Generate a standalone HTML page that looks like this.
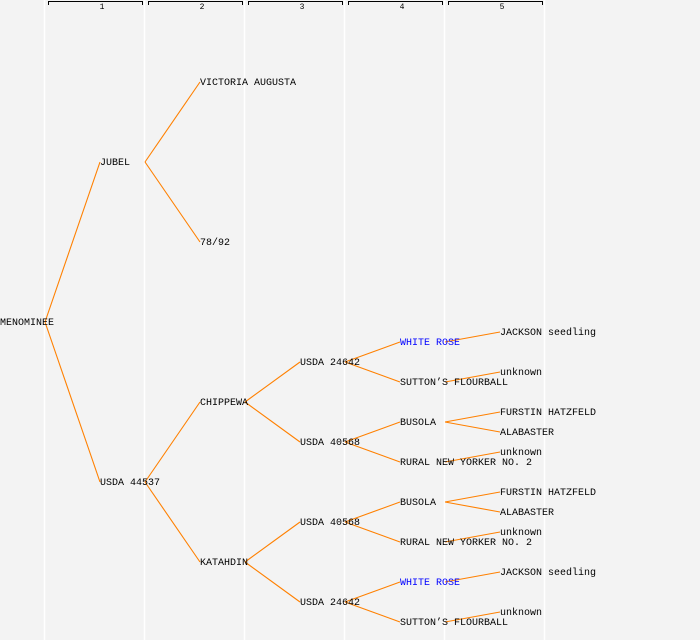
<!DOCTYPE html>
<html><head><meta charset="utf-8"><style>
html,body{margin:0;padding:0;background:#f3f3f3;}
svg{display:block}
text{font-family:"Liberation Mono",monospace;font-size:10px;fill:#000}
</style></head><body>
<svg width="700" height="640" viewBox="0 0 700 640">
<rect width="700" height="640" fill="#f3f3f3"/>
<g stroke="#fff" stroke-width="1.5">
<line x1="44.5" y1="0" x2="44.5" y2="640"/><line x1="144.5" y1="0" x2="144.5" y2="640"/>
<line x1="244.5" y1="0" x2="244.5" y2="640"/><line x1="344.5" y1="0" x2="344.5" y2="640"/>
<line x1="444.5" y1="0" x2="444.5" y2="640"/><line x1="544.5" y1="0" x2="544.5" y2="640"/>
</g>
<g stroke="#000" stroke-width="1" fill="none">
<path d="M48.5 5V1.5H142.5V5"/><path d="M148.5 5V1.5H242.5V5"/><path d="M248.5 5V1.5H342.5V5"/>
<path d="M348.5 5V1.5H442.5V5"/><path d="M448.5 5V1.5H542.5V5"/>
</g>
<g text-anchor="middle">
<text x="102" y="9" style="font-size:8px">1</text><text x="202" y="9" style="font-size:8px">2</text>
<text x="302" y="9" style="font-size:8px">3</text><text x="402" y="9" style="font-size:8px">4</text>
<text x="502" y="9" style="font-size:8px">5</text>
</g>
<g stroke="#ff8000" stroke-width="1.1">
<line x1="45" y1="322" x2="100" y2="162"/><line x1="45" y1="322" x2="100" y2="482"/>
<line x1="145" y1="162" x2="200" y2="82"/><line x1="145" y1="162" x2="200" y2="242"/>
<line x1="145" y1="482" x2="200" y2="402"/><line x1="145" y1="482" x2="200" y2="562"/>
<line x1="245" y1="402" x2="300" y2="362"/><line x1="245" y1="402" x2="300" y2="442"/>
<line x1="245" y1="562" x2="300" y2="522"/><line x1="245" y1="562" x2="300" y2="602"/>
<line x1="345" y1="362" x2="400" y2="342"/><line x1="345" y1="362" x2="400" y2="382"/>
<line x1="345" y1="442" x2="400" y2="422"/><line x1="345" y1="442" x2="400" y2="462"/>
<line x1="345" y1="522" x2="400" y2="502"/><line x1="345" y1="522" x2="400" y2="542"/>
<line x1="345" y1="602" x2="400" y2="582"/><line x1="345" y1="602" x2="400" y2="622"/>
<line x1="445" y1="342" x2="500" y2="332"/><line x1="445" y1="382" x2="500" y2="372"/>
<line x1="445" y1="422" x2="500" y2="412"/><line x1="445" y1="422" x2="500" y2="432"/>
<line x1="445" y1="462" x2="500" y2="452"/>
<line x1="445" y1="502" x2="500" y2="492"/><line x1="445" y1="502" x2="500" y2="512"/>
<line x1="445" y1="542" x2="500" y2="532"/>
<line x1="445" y1="582" x2="500" y2="572"/><line x1="445" y1="622" x2="500" y2="612"/>
</g>
<g transform="translate(0,-1)">
<text x="0" y="326">MENOMINEE</text>
<text x="100" y="166">JUBEL</text><text x="100" y="486">USDA 44537</text>
<text x="200" y="86">VICTORIA AUGUSTA</text><text x="200" y="246">78/92</text>
<text x="200" y="406">CHIPPEWA</text><text x="200" y="566">KATAHDIN</text>
<text x="300" y="366">USDA 24642</text><text x="300" y="446">USDA 40568</text>
<text x="300" y="526">USDA 40568</text><text x="300" y="606">USDA 24642</text>
<text x="400" y="346" style="fill:#0000ff">WHITE ROSE</text><text x="400" y="386">SUTTON’S FLOURBALL</text>
<text x="400" y="426">BUSOLA</text><text x="400" y="466">RURAL NEW YORKER NO. 2</text>
<text x="400" y="506">BUSOLA</text><text x="400" y="546">RURAL NEW YORKER NO. 2</text>
<text x="400" y="586" style="fill:#0000ff">WHITE ROSE</text><text x="400" y="626">SUTTON’S FLOURBALL</text>
<text x="500" y="336">JACKSON seedling</text><text x="500" y="376">unknown</text>
<text x="500" y="416">FURSTIN HATZFELD</text><text x="500" y="436">ALABASTER</text>
<text x="500" y="456">unknown</text>
<text x="500" y="496">FURSTIN HATZFELD</text><text x="500" y="516">ALABASTER</text>
<text x="500" y="536">unknown</text>
<text x="500" y="576">JACKSON seedling</text><text x="500" y="616">unknown</text>
</g>
</svg>
</body></html>
